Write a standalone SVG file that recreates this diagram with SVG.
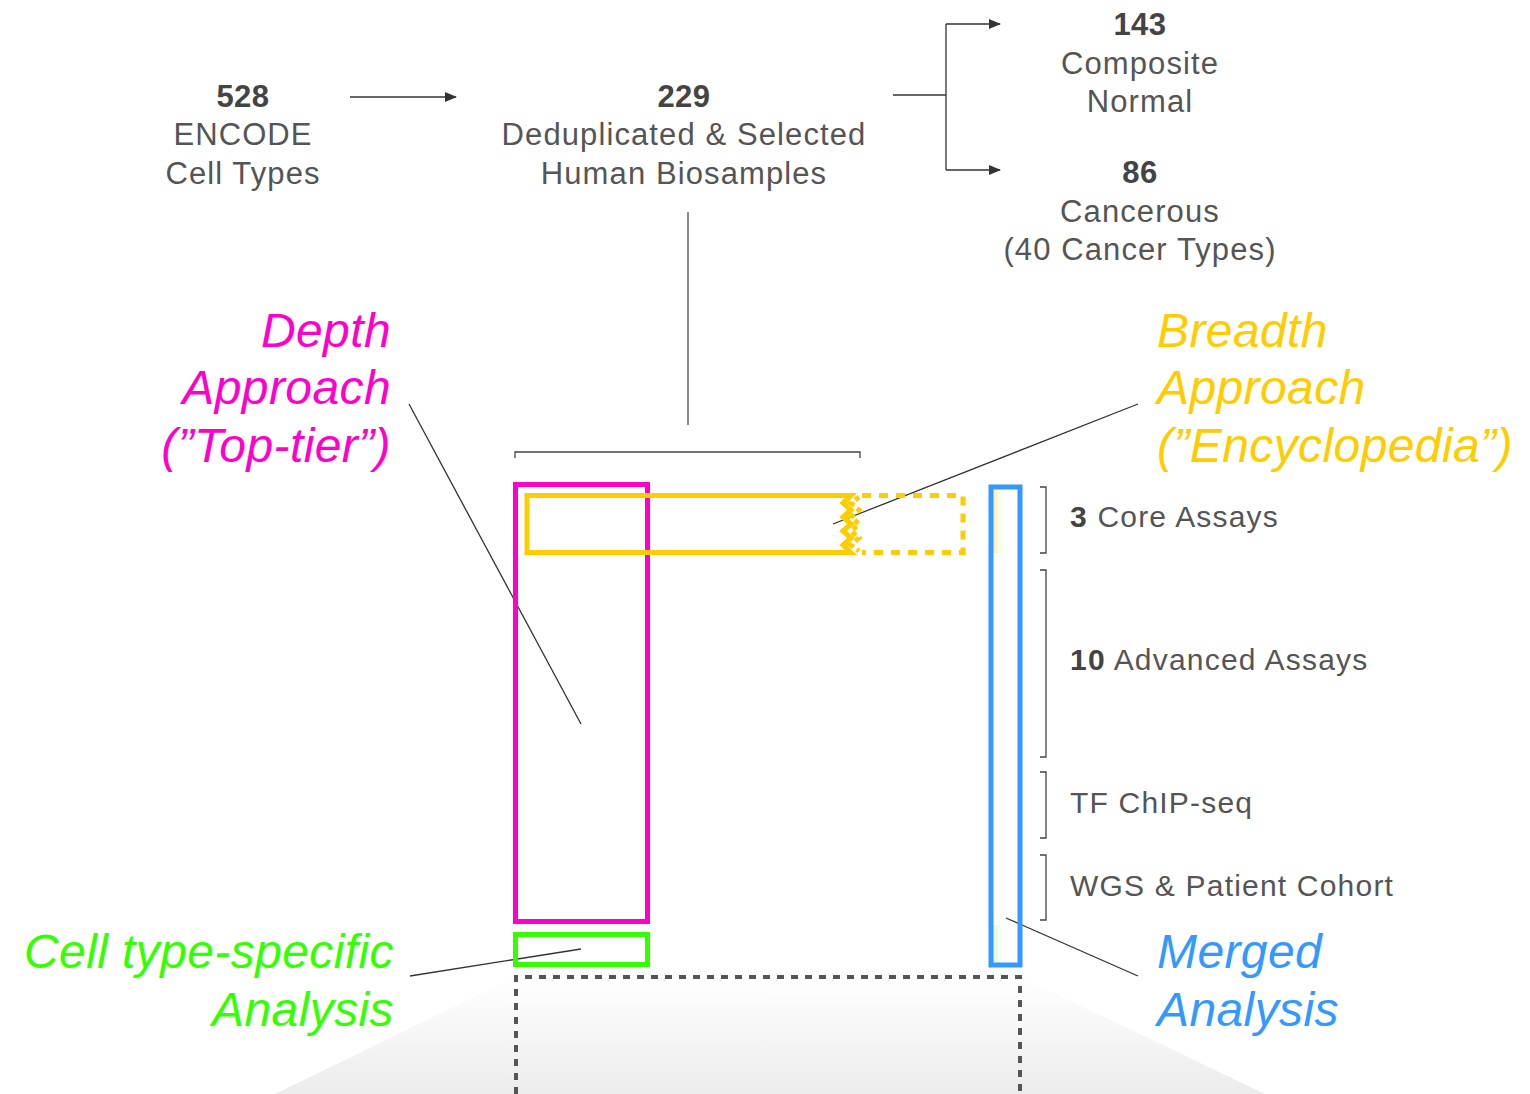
<svg xmlns="http://www.w3.org/2000/svg" width="1530" height="1094" viewBox="0 0 1530 1094">
<defs>
<linearGradient id="trap" x1="0" y1="0" x2="0" y2="1">
<stop offset="0" stop-color="#ffffff"/>
<stop offset="1" stop-color="#ececec"/>
</linearGradient>
<linearGradient id="yfade" x1="0" y1="0" x2="1" y2="0">
<stop offset="0" stop-color="#ffe9a0"/>
<stop offset="1" stop-color="#ffffff" stop-opacity="0"/>
</linearGradient>
<linearGradient id="gfade" x1="0" y1="0" x2="1" y2="0">
<stop offset="0" stop-color="#d8f8c8"/>
<stop offset="1" stop-color="#ffffff" stop-opacity="0"/>
</linearGradient>
<marker id="arr" markerWidth="12" markerHeight="10" refX="11" refY="5" orient="auto" markerUnits="userSpaceOnUse">
<path d="M0,0 L12,5 L0,10 Z" fill="#333"/>
</marker>
</defs>
<style>
.t{font-family:"Liberation Sans",Arial,sans-serif;font-size:31px;letter-spacing:1.1px;fill:#555;text-anchor:middle}
.b{font-weight:bold;fill:#444;letter-spacing:0.5px}
.lab{font-family:"Liberation Sans",Arial,sans-serif;font-size:30px;letter-spacing:1.2px;fill:#555}
.it{font-family:"Liberation Sans",Arial,sans-serif;font-size:48px;letter-spacing:0.4px;font-style:italic}
.ln{stroke:#333;stroke-width:1.3;fill:none}
.br{stroke:#444;stroke-width:1.3;fill:none}
</style>
<rect width="1530" height="1094" fill="#fff"/>

<g id="trapezoid">
<path d="M515,977 L1021,977 L1265,1094 L275,1094 Z" fill="url(#trap)"/>
</g>

<g id="node-528">
<text class="t b" x="243" y="107">528</text>
<text class="t" x="243" y="145">ENCODE</text>
<text class="t" x="243" y="184">Cell Types</text>
</g>
<g id="node-229">
<text class="t b" x="684" y="107">229</text>
<text class="t" x="684" y="145">Deduplicated &amp; Selected</text>
<text class="t" x="684" y="184">Human Biosamples</text>
</g>
<g id="node-143">
<text class="t b" x="1140" y="35">143</text>
<text class="t" x="1140" y="74">Composite</text>
<text class="t" x="1140" y="112">Normal</text>
</g>
<g id="node-86">
<text class="t b" x="1140" y="183">86</text>
<text class="t" x="1140" y="222">Cancerous</text>
<text class="t" x="1140" y="260">(40 Cancer Types)</text>
</g>

<g id="connectors">
<line class="ln" x1="350" y1="97" x2="456" y2="97" marker-end="url(#arr)"/>
<line class="ln" x1="893" y1="95" x2="946" y2="95"/>
<line class="ln" x1="946" y1="24" x2="946" y2="170"/>
<line class="ln" x1="946" y1="24" x2="1000" y2="24" marker-end="url(#arr)"/>
<line class="ln" x1="946" y1="170" x2="1000" y2="170" marker-end="url(#arr)"/>
<line x1="688" y1="212" x2="688" y2="425" stroke="#666" stroke-width="1.5"/>
<path class="br" d="M515,458 L515,452 L860,452 L860,458" stroke-width="1.5"/>
<line class="ln" x1="409" y1="404" x2="581" y2="724"/>
<line class="ln" x1="1138" y1="404" x2="833" y2="524"/>
<line class="ln" x1="410" y1="976" x2="581" y2="949"/>
<line class="ln" x1="1006" y1="918" x2="1138" y2="976"/>
</g>

<g id="depth-box">
<rect x="515.5" y="484.5" width="132" height="437" fill="none" stroke="#ff00cc" stroke-width="5"/>
</g>
<g id="breadth-box">
<path d="M851,495.5 L527,495.5 L527,552.5 L851,552.5 L843,545 L851,538 L843,531 L851,524 L843,517 L851,510 L843,503 Z" fill="none" stroke="#ffcc00" stroke-width="5" stroke-linejoin="miter"/>
<path d="M859,497 L851,503 L859,510 L851,517 L859,524 L851,531 L859,538 L851,545 L859,551" fill="none" stroke="#ffcc00" stroke-width="5" stroke-dasharray="5,4"/>
<path d="M862,495.5 L963,495.5 L963,552.5 L862,552.5" fill="none" stroke="#ffcc00" stroke-width="5" stroke-dasharray="9,8"/>
</g>
<g id="merged-box">
<rect x="993" y="489" width="13" height="64" fill="url(#yfade)"/>
<rect x="993" y="925" width="13" height="38" fill="url(#gfade)"/>
<rect x="991" y="487" width="29" height="478" fill="none" stroke="#3399ff" stroke-width="5"/>
</g>
<g id="celltype-box">
<rect x="515.5" y="934.5" width="132" height="30" fill="none" stroke="#33ff00" stroke-width="5"/>
</g>
<g id="dotted-box">
<path d="M516,1094 L516,977 L1020,977 L1020,1094" fill="none" stroke="#555" stroke-width="4" stroke-dasharray="7,7"/>
</g>

<g id="assay-brackets">
<path class="br" d="M1040,487 L1046,487 L1046,553 L1040,553"/>
<path class="br" d="M1040,570 L1046,570 L1046,757 L1040,757"/>
<path class="br" d="M1040,772 L1046,772 L1046,838 L1040,838"/>
<path class="br" d="M1040,855 L1046,855 L1046,920 L1040,920"/>
<text class="lab" x="1070" y="527"><tspan font-weight="bold" fill="#444">3</tspan> Core Assays</text>
<text class="lab" x="1070" y="670"><tspan font-weight="bold" fill="#444">10</tspan> Advanced Assays</text>
<text class="lab" x="1070" y="813">TF ChIP-seq</text>
<text class="lab" x="1070" y="896">WGS &amp; Patient Cohort</text>
</g>

<g id="depth-label">
<text class="it" fill="#ff00cc" text-anchor="end" x="391" y="347">Depth</text>
<text class="it" fill="#ff00cc" text-anchor="end" x="391" y="404">Approach</text>
<text class="it" fill="#ff00cc" text-anchor="end" x="391" y="462">(”Top-tier”)</text>
</g>
<g id="breadth-label">
<text class="it" fill="#ffcc00" x="1157" y="347">Breadth</text>
<text class="it" fill="#ffcc00" x="1157" y="404">Approach</text>
<text class="it" fill="#ffcc00" x="1157" y="462">(”Encyclopedia”)</text>
</g>
<g id="celltype-label">
<text class="it" fill="#33ff00" text-anchor="end" x="394" y="968">Cell type-specific</text>
<text class="it" fill="#33ff00" text-anchor="end" x="394" y="1026">Analysis</text>
</g>
<g id="merged-label">
<text class="it" fill="#3399ff" x="1157" y="968">Merged</text>
<text class="it" fill="#3399ff" x="1157" y="1026">Analysis</text>
</g>
</svg>
